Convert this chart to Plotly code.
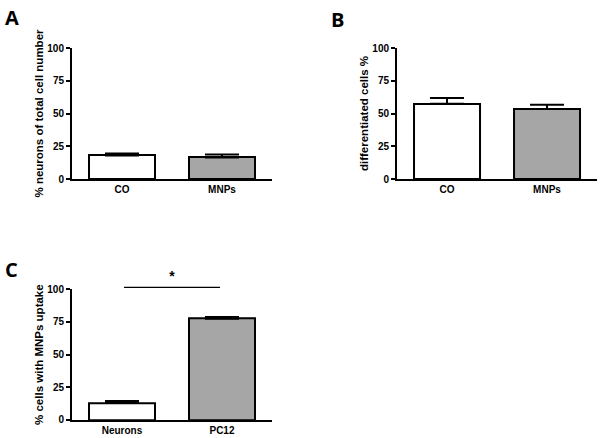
import plotly.graph_objects as go

# Panel A: % neurons of total cell number
cats_ab = ['CO', 'MNPs']
neurons_pct = [18, 16.5]
neurons_err = [1.5, 2.2]

# Panel B: differentiated cells %
diff_pct = [57.5, 53.5]
diff_err = [4.3, 3.2]

# Panel C: % cells with MNPs uptake
cats_c = ['Neurons', 'PC12']
uptake_pct = [13, 77.5]
uptake_err = [1.6, 1.4]
sig_level = 101.5
sig_star_level = 109

BAR_COLORS = ['#ffffff', '#a6a6a6']
FONT = 'Liberation Sans, Arial, sans-serif'

# domains (paper coords)
X_LEFT = [0.12, 0.4533]
X_RIGHT = [0.6617, 0.995]
Y_TOP = [0.5913, 0.8904]
Y_BOT = [0.0411, 0.3395]
Y_SIG = [0.0411, 0.41]

fig = go.Figure()


def add_panel(cats, vals, errs, xa, ya):
    fig.add_trace(go.Bar(
        x=list(range(len(cats))), y=vals,
        width=0.66,
        marker=dict(color=BAR_COLORS, line=dict(color='black', width=2)),
        error_y=dict(type='data', array=errs, arrayminus=[0] * len(errs), symmetric=False,
                     color='black', thickness=2, width=17),
        xaxis=xa, yaxis=ya, showlegend=False,
    ))


add_panel(cats_ab, neurons_pct, neurons_err, 'x', 'y')
add_panel(cats_ab, diff_pct, diff_err, 'x2', 'y2')
add_panel(cats_c, uptake_pct, uptake_err, 'x3', 'y3')

# significance bar on an invisible overlay subplot that extends above panel C
fig.add_trace(go.Scatter(
    x=[0.02, 0.98], y=[sig_level, sig_level], mode='lines',
    line=dict(color='black', width=1.2),
    xaxis='x4', yaxis='y4', showlegend=False, hoverinfo='skip',
))
fig.add_trace(go.Scatter(
    x=[0.5], y=[sig_star_level], mode='text', text=['*'],
    textfont=dict(family=FONT, size=14, color='black', weight='bold'),
    xaxis='x4', yaxis='y4', showlegend=False, hoverinfo='skip', cliponaxis=False,
))

tickfont = dict(family=FONT, size=10, color='black', weight='bold')
titlefont = dict(family=FONT, size=11.5, color='black', weight='bold')


def xaxis(domain, anchor, cats):
    return dict(domain=domain, anchor=anchor, range=[-0.5, 1.5], automargin=False,
                tickvals=list(range(len(cats))), ticktext=cats,
                showline=True, linecolor='black', linewidth=2,
                ticks='', showgrid=False, zeroline=False, tickfont=tickfont)


def yaxis(domain, anchor, title, standoff):
    return dict(domain=domain, anchor=anchor, range=[0, 100], automargin=False,
                tickvals=[0, 25, 50, 75, 100],
                showline=True, linecolor='black', linewidth=2,
                ticks='outside', ticklen=4, tickwidth=2, tickcolor='black',
                showgrid=False, zeroline=False, tickfont=tickfont,
                title=dict(text=title, font=titlefont, standoff=standoff))


sig_top = 100 * (Y_SIG[1] - Y_SIG[0]) / (Y_BOT[1] - Y_BOT[0])

fig.update_layout(
    width=600, height=438,
    margin=dict(l=0, r=0, t=0, b=0),
    paper_bgcolor='white', plot_bgcolor='rgba(0,0,0,0)',
    bargap=0,
    xaxis=xaxis(X_LEFT, 'y', cats_ab),
    yaxis=yaxis(Y_TOP, 'x', '% neurons of total cell number', 1),
    xaxis2=xaxis(X_RIGHT, 'y2', cats_ab),
    yaxis2=yaxis(Y_TOP, 'x2', 'differentiated cells %', 1),
    xaxis3=xaxis(X_LEFT, 'y3', cats_c),
    yaxis3=yaxis(Y_BOT, 'x3', '% cells with MNPs uptake', 1),
    xaxis4=dict(domain=X_LEFT, anchor='y4', range=[-0.5, 1.5], visible=False, automargin=False),
    yaxis4=dict(domain=Y_SIG, anchor='x4', range=[0, sig_top], visible=False, automargin=False),
)

letter_font = dict(family='Open Sans, sans-serif', size=20, color='black', weight='bold')
for letter, x, y in [('A', 0.005, 0.995), ('B', 0.548, 0.99), ('C', 0.005, 0.42)]:
    fig.add_annotation(text=letter, x=x, y=y, xref='paper', yref='paper',
                       xanchor='left', yanchor='top', showarrow=False, font=letter_font)

# the page body has a default 8px margin; drop it so the figure fills the window
fig.write_html('out.html', config={'displayModeBar': False},
               post_script="document.body.style.margin='0';")
